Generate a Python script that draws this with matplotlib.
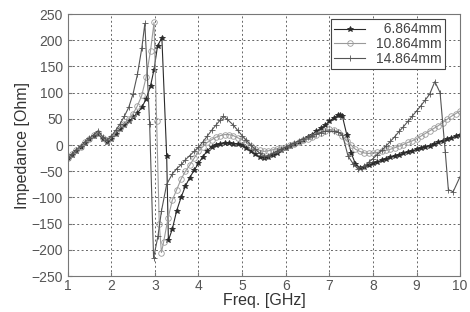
import matplotlib.pyplot as plt

# 6.864 mm
f_a = [1.0, 1.1, 1.2, 1.3, 1.4, 1.5, 1.6, 1.7, 1.8, 1.9, 2.0, 2.1, 2.2, 2.3, 2.4,
       2.5, 2.6, 2.7, 2.8, 2.9, 2.98, 3.06, 3.16, 3.27, 3.31, 3.4, 3.5, 3.6, 3.7,
       3.8, 3.9, 4.0, 4.1, 4.2, 4.3, 4.4, 4.5, 4.6, 4.7, 4.8, 4.9, 5.0, 5.1, 5.2,
       5.3, 5.4, 5.5, 5.6, 5.7, 5.8, 5.9, 6.0, 6.1, 6.2, 6.3, 6.4, 6.5, 6.6, 6.7,
       6.8, 6.9, 7.0, 7.1, 7.2, 7.25, 7.3, 7.4, 7.5, 7.6, 7.7, 7.8, 7.9, 8.0, 8.1,
       8.2, 8.3, 8.4, 8.5, 8.6, 8.7, 8.8, 8.9, 9.0, 9.1, 9.2, 9.3, 9.4, 9.5, 9.6,
       9.7, 9.8, 9.9, 10.0]
z_a = [-25, -18, -11, -4, 4, 11, 18, 22, 12, 5, 12, 21, 30, 38, 45,
       53, 61, 72, 88, 113, 144, 189, 205, -20, -182, -160, -125, -100, -78,
       -62, -48, -35, -22, -11, -3, 1, 3, 4, 4, 3, 2, 0, -5, -11,
       -17, -22, -24, -22, -19, -16, -10, -5, -1, 2, 6, 10, 15, 20, 26,
       32, 38, 45, 52, 57, 58, 55, 20, -15, -36, -43, -41, -38, -35, -32,
       -29, -26, -23, -21, -18, -16, -13, -11, -8, -6, -3, -1, 2, 5, 8,
       11, 14, 17, 20]

# 10.864 mm
f_b = [1.0, 1.1, 1.2, 1.3, 1.4, 1.5, 1.6, 1.7, 1.8, 1.9, 2.0, 2.1, 2.2, 2.3, 2.4,
       2.5, 2.6, 2.7, 2.8, 2.9, 2.98, 3.04, 3.1, 3.15, 3.2, 3.3, 3.4, 3.5, 3.6,
       3.7, 3.8, 3.9, 4.0, 4.1, 4.2, 4.3, 4.4, 4.5, 4.6, 4.7, 4.8, 4.9, 5.0, 5.1,
       5.2, 5.3, 5.4, 5.5, 5.6, 5.7, 5.8, 5.9, 6.0, 6.1, 6.2, 6.3, 6.4, 6.5, 6.6,
       6.7, 6.8, 6.9, 7.0, 7.1, 7.2, 7.3, 7.4, 7.5, 7.6, 7.7, 7.8, 7.9, 8.0, 8.1,
       8.2, 8.3, 8.4, 8.5, 8.6, 8.7, 8.8, 8.9, 9.0, 9.1, 9.2, 9.3, 9.4, 9.5, 9.6,
       9.7, 9.8, 9.9, 10.0]
z_b = [-25, -17, -10, -3, 5, 12, 19, 24, 14, 7, 14, 24, 33, 41, 50,
       60, 75, 95, 130, 180, 234, 46, -150, -205, -185, -140, -105, -85, -65,
       -50, -38, -25, -12, -3, 5, 10, 15, 18, 20, 20, 18, 14, 10, 5,
       -2, -7, -10, -12, -11, -9, -7, -5, -3, 0, 3, 6, 9, 12, 16,
       20, 24, 27, 30, 29, 25, 18, 8, 0, -8, -12, -15, -16, -15, -14,
       -12, -10, -8, -5, -2, 1, 5, 8, 12, 17, 22, 27, 32, 37, 43,
       49, 55, 60, 65]

# 14.864 mm
f_c = [1.0, 1.1, 1.2, 1.3, 1.4, 1.5, 1.6, 1.7, 1.8, 1.9, 2.0, 2.1, 2.2, 2.3, 2.4,
       2.5, 2.6, 2.7, 2.77, 2.88, 2.97, 3.07, 3.15, 3.27, 3.4, 3.5, 3.61, 3.7,
       3.8, 3.9, 4.0, 4.1, 4.2, 4.3, 4.4, 4.5, 4.57, 4.65, 4.8, 4.9, 5.0, 5.1,
       5.2, 5.3, 5.4, 5.5, 5.6, 5.7, 5.8, 5.9, 6.0, 6.1, 6.2, 6.3, 6.4, 6.5, 6.6,
       6.7, 6.8, 6.9, 7.0, 7.1, 7.2, 7.3, 7.43, 7.55, 7.65, 7.8, 7.9, 8.0, 8.1,
       8.2, 8.3, 8.4, 8.5, 8.6, 8.7, 8.8, 8.9, 9.0, 9.1, 9.2, 9.3, 9.42, 9.54,
       9.66, 9.73, 9.84, 10.0]
z_c = [-25, -17, -9, -2, 6, 13, 20, 27, 16, 9, 17, 28, 40, 55, 72,
       98, 135, 185, 232, 40, -215, -174, -126, -75, -55, -45, -37, -28,
       -20, -12, -4, 6, 17, 28, 38, 48, 55, 50, 38, 28, 18, 9,
       0, -8, -15, -21, -20, -16, -12, -8, -4, 0, 4, 8, 12, 15, 18,
       21, 24, 26, 27, 26, 25, 20, -21, -36, -45, -40, -33, -26, -18,
       -10, -2, 7, 16, 26, 35, 45, 55, 65, 75, 86, 97, 121, 100,
       -14, -85, -89, -60]

labels = ["  6.864mm", "10.864mm", "14.864mm"]
xticks = [1, 2, 3, 4, 5, 6, 7, 8, 9, 10]
yticks = [-250, -200, -150, -100, -50, 0, 50, 100, 150, 200, 250]

plt.rcParams["font.family"] = ["Liberation Sans", "DejaVu Sans"]

fig = plt.figure(figsize=(4.7, 3.12), dpi=100)
ax = fig.add_axes([0.144, 0.115, 0.835, 0.84])

ax.plot(f_a, z_a, color="#2a2a2a", lw=0.8, marker="*", ms=4, mew=0.6,
        label=labels[0])
ax.plot(f_b, z_b, color="#9a9a9a", lw=0.8, marker="o", ms=4, mfc="none",
        mew=0.6, label=labels[1])
ax.plot(f_c, z_c, color="#555555", lw=0.8, marker="+", ms=5, mew=0.6,
        label=labels[2])

ax.set_xlim(1, 10)
ax.set_ylim(-250, 250)
ax.set_xticks(xticks)
ax.set_yticks(yticks)
ax.grid(True, color="#666666", lw=0.7, linestyle=(0, (2, 2.5)))
ax.tick_params(direction="in", length=3, labelsize=10, labelcolor="#555555",
               color="#777777")
ax.tick_params(axis="x", pad=2)
for s in ax.spines.values():
    s.set_color("#777777")
    s.set_linewidth(0.8)

ax.set_xlabel("Freq. [GHz]", fontsize=11.5, color="#333333", labelpad=0)
ax.set_ylabel("Impedance [Ohm]", fontsize=11.5, color="#333333", labelpad=1)

leg = ax.legend(loc="upper right", bbox_to_anchor=(0.962, 0.981),
                borderaxespad=0, fontsize=10, fancybox=False, framealpha=1,
                edgecolor="#444444", handlelength=2.2, labelspacing=0.05,
                borderpad=0.25)
leg.get_frame().set_linewidth(0.8)
for t in leg.get_texts():
    t.set_color("#444444")

fig.savefig("out.png", dpi=100)
